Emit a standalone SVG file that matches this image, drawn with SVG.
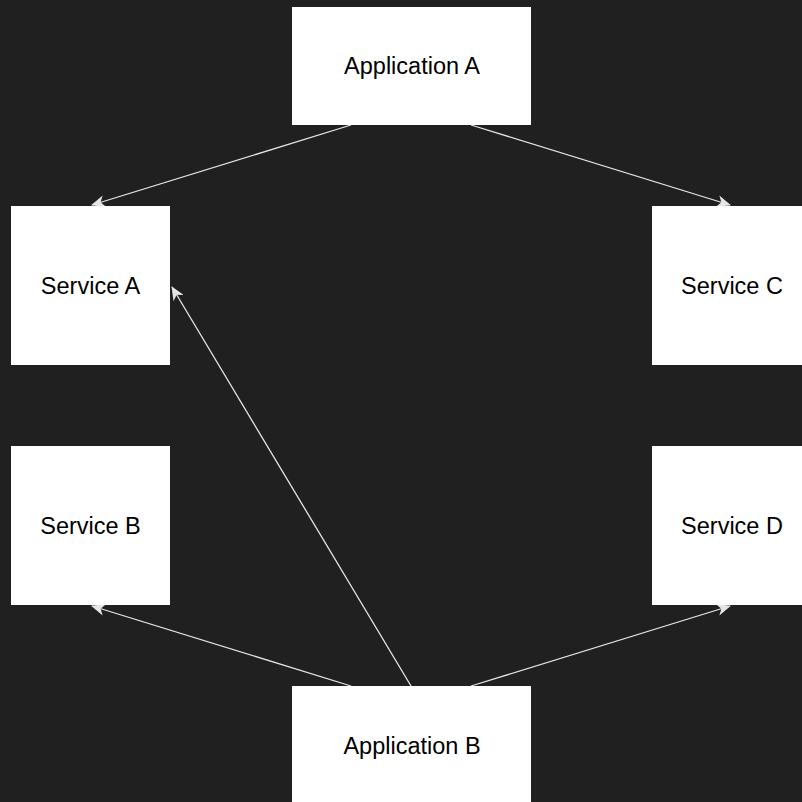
<svg xmlns="http://www.w3.org/2000/svg" width="802" height="802" viewBox="0 0 802 802">
<style>
.box{fill:#ffffff;stroke:none}
.lbl{font-family:"Liberation Sans",Arial,sans-serif;font-size:23.5px;fill:#000000;text-anchor:middle}
.edge{stroke:#e6e6e6;stroke-width:1.3;fill:none}
</style>
<defs>
<marker id="arr" viewBox="0 0 14 12" refX="13" refY="6" markerWidth="14" markerHeight="12" markerUnits="userSpaceOnUse" orient="auto">
<path d="M0,0 L14,6 L0,12 L4,6 Z" fill="#e6e6e6"/>
</marker>
</defs>
<rect width="802" height="802" fill="#202020"/>
<g id="connectors">
<line class="edge" x1="351" y1="125" x2="92" y2="205" marker-end="url(#arr)"/>
<line class="edge" x1="471" y1="125" x2="730" y2="205" marker-end="url(#arr)"/>
<line class="edge" x1="351" y1="686" x2="92" y2="606" marker-end="url(#arr)"/>
<line class="edge" x1="471" y1="686" x2="730" y2="606" marker-end="url(#arr)"/>
<line class="edge" x1="411" y1="686" x2="172" y2="287" marker-end="url(#arr)"/>
</g>
<g id="appA"><rect class="box" x="292" y="7" width="239" height="118"/><text class="lbl" x="412" y="74">Application A</text></g>
<g id="serviceA"><rect class="box" x="11" y="206" width="159" height="159"/><text class="lbl" x="90.5" y="294">Service A</text></g>
<g id="serviceC"><rect class="box" x="652" y="206" width="160" height="159"/><text class="lbl" x="732" y="294">Service C</text></g>
<g id="serviceB"><rect class="box" x="11" y="446" width="159" height="159"/><text class="lbl" x="90.5" y="534">Service B</text></g>
<g id="serviceD"><rect class="box" x="652" y="446" width="160" height="159"/><text class="lbl" x="732" y="534">Service D</text></g>
<g id="appB"><rect class="box" x="292" y="686" width="239" height="130"/><text class="lbl" x="412" y="754">Application B</text></g>
</svg>
